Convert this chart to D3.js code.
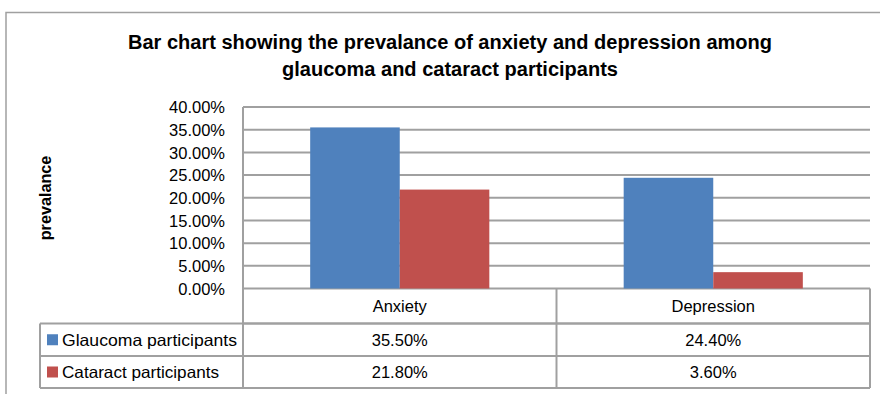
<!DOCTYPE html>
<html>
<head>
<meta charset="utf-8">
<script src="https://cdn.jsdelivr.net/npm/d3@7"></script>
<style>
  html, body { margin: 0; padding: 0; background: #fff; }
  svg { display: block; }
  text { font-family: "Liberation Sans", Arial, sans-serif; fill: #000; }
</style>
</head>
<body>
<svg id="chart" width="880" height="394"></svg>
<script>
// ---- data ----
const categories = ["Anxiety", "Depression"];
const seriesNames = ["Glaucoma participants", "Cataract participants"];
const glaucoma = [35.5, 24.4];
const cataract = [21.8, 3.6];
const yTicks = [0, 5, 10, 15, 20, 25, 30, 35, 40];
const titleLines = ["Bar chart showing the prevalance of anxiety and depression among",
                    "glaucoma and cataract participants"];
const yTitle = "prevalance";
const colors = ["#4F81BD", "#C0504D"];

const seriesValues = [glaucoma, cataract];

const svg = d3.select("#chart");
const gridColor = "#A0A0A0";

// outer frame (top & left visible)
svg.append("path")
  .attr("d", "M6,394 V12.5 H880")
  .attr("fill", "none").attr("stroke", gridColor).attr("stroke-width", 1.5);

// title
const titleG = svg.append("g");
const titleWidths = [644, 336];
const titleBase = [49, 76];
titleLines.forEach((t, i) => {
  titleG.append("text")
    .attr("x", 450).attr("y", titleBase[i])
    .attr("text-anchor", "middle")
    .attr("font-size", 19.5).attr("font-weight", "bold")
    .attr("textLength", titleWidths[i]).attr("lengthAdjust", "spacingAndGlyphs")
    .text(t);
});

// plot geometry
const plot = { left: 243, right: 870, top: 107, bottom: 288.5 };

const x0 = d3.scaleBand().domain(categories).range([plot.left, plot.right]).padding(0);
const x1 = d3.scaleBand().domain(seriesNames).range([0, x0.bandwidth()])
  .paddingInner(0).paddingOuter(0.75);
const y = d3.scaleLinear().domain([0, 40]).range([plot.bottom, plot.top]);

// gridlines
svg.append("g").selectAll("line").data(yTicks).join("line")
  .attr("x1", plot.left).attr("x2", plot.right)
  .attr("y1", d => y(d)).attr("y2", d => y(d))
  .attr("stroke", gridColor).attr("stroke-width", 2);

// y axis
const yAxis = d3.axisLeft(y).tickValues(yTicks).tickSize(0).tickPadding(0)
  .tickFormat(d => d.toFixed(2) + "%");
const yAxisG = svg.append("g").attr("transform", `translate(${225},0)`).call(yAxis);
yAxisG.select(".domain").remove();
yAxisG.selectAll("text").attr("font-size", 16.5)
  .attr("font-family", "'Liberation Sans', Arial, sans-serif").attr("fill", "#000")
  .attr("dy", "0.35em");

// axis line on left of plot (extends through header row)
svg.append("line")
  .attr("x1", plot.left).attr("x2", plot.left)
  .attr("y1", plot.top).attr("y2", 388)
  .attr("stroke", gridColor).attr("stroke-width", 2);

// bars
const barsG = svg.append("g");
categories.forEach((c, ci) => {
  seriesNames.forEach((s, si) => {
    const v = seriesValues[si][ci];
    barsG.append("rect")
      .attr("x", x0(c) + x1(s))
      .attr("y", y(v))
      .attr("width", x1.bandwidth())
      .attr("height", y(0) - y(v))
      .attr("fill", colors[si]);
  });
});

// y title
svg.append("text")
  .attr("transform", `translate(51,198) rotate(-90)`)
  .attr("text-anchor", "middle")
  .attr("font-size", 16.2).attr("font-weight", "bold")
  .text(yTitle);

// data table
const rowY = [288.5, 323.5, 356, 388];
const tableLeft = 40;
const tbl = svg.append("g");
// horizontal lines
tbl.append("line").attr("x1", plot.left).attr("x2", plot.right)
  .attr("y1", rowY[1]).attr("y2", rowY[1]);
tbl.append("line").attr("x1", tableLeft).attr("x2", plot.right)
  .attr("y1", rowY[1]).attr("y2", rowY[1]);
tbl.append("line").attr("x1", tableLeft).attr("x2", plot.right)
  .attr("y1", rowY[2]).attr("y2", rowY[2]);
tbl.append("line").attr("x1", tableLeft).attr("x2", plot.right)
  .attr("y1", rowY[3]).attr("y2", rowY[3]);
// vertical lines
tbl.append("line").attr("x1", tableLeft).attr("x2", tableLeft)
  .attr("y1", rowY[1]).attr("y2", rowY[3]);
categories.forEach(c => {
  const xr = x0(c) + x0.bandwidth();
  tbl.append("line").attr("x1", xr).attr("x2", xr)
    .attr("y1", rowY[0]).attr("y2", rowY[3]);
});
tbl.selectAll("line").attr("stroke", gridColor).attr("stroke-width", 2);

// header labels
categories.forEach(c => {
  tbl.append("text")
    .attr("x", x0(c) + x0.bandwidth() / 2)
    .attr("y", (rowY[0] + rowY[1]) / 2)
    .attr("dy", "0.35em")
    .attr("text-anchor", "middle").attr("font-size", 16.5)
    .text(c);
});

// series rows
seriesNames.forEach((s, si) => {
  const cy = (rowY[si + 1] + rowY[si + 2]) / 2;
  tbl.append("rect")
    .attr("x", 47).attr("y", cy - 5.5).attr("width", 11).attr("height", 11)
    .attr("fill", colors[si]);
  tbl.append("text")
    .attr("x", 62).attr("y", cy).attr("dy", "0.35em")
    .attr("font-size", 16.5)
    .attr("textLength", si === 0 ? 175 : 157).attr("lengthAdjust", "spacingAndGlyphs")
    .text(s);
  categories.forEach((c, ci) => {
    tbl.append("text")
      .attr("x", x0(c) + x0.bandwidth() / 2)
      .attr("y", cy).attr("dy", "0.35em")
      .attr("text-anchor", "middle").attr("font-size", 16.5)
      .text(seriesValues[si][ci].toFixed(2) + "%");
  });
});
</script>
</body>
</html>
